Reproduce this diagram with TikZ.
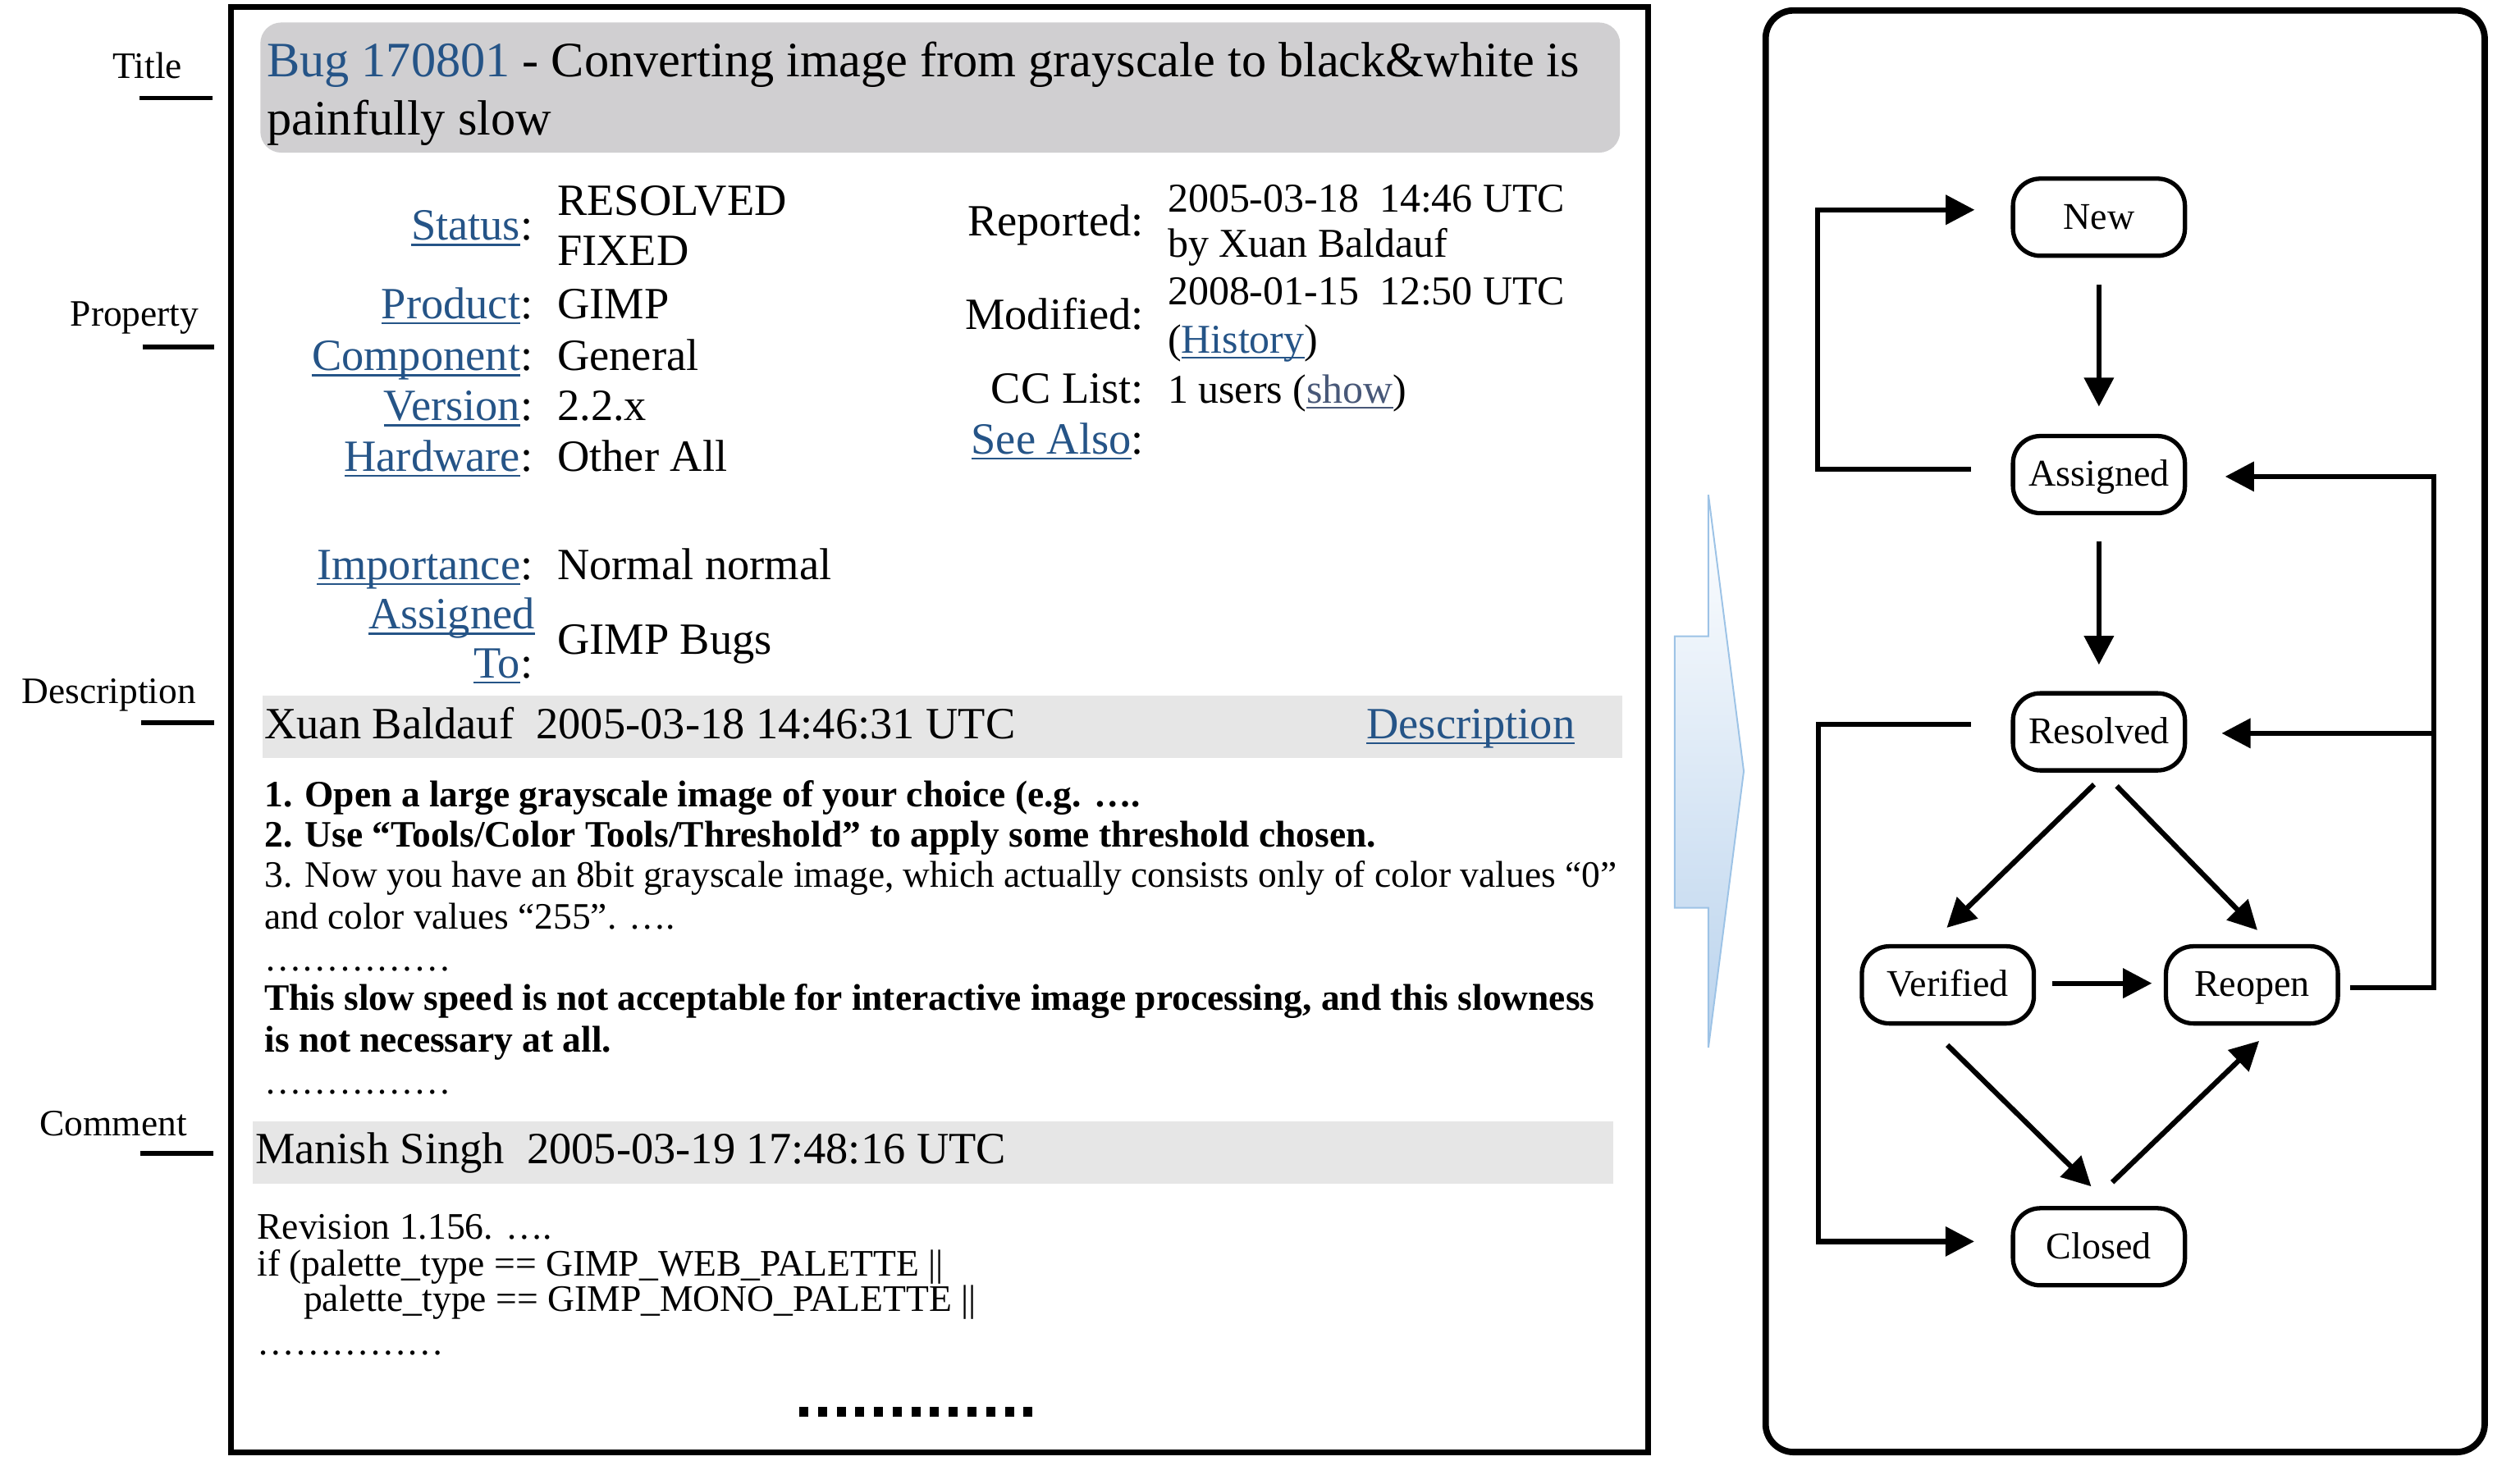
\documentclass[tikz,border=0pt]{standalone}
\usepackage{fontspec}
\setmainfont{Liberation Serif}
\usetikzlibrary{arrows.meta,calc}
\definecolor{linkblue}{RGB}{37,84,135}
\definecolor{visblue}{RGB}{72,88,120}
\definecolor{titlegray}{RGB}{208,207,209}
\definecolor{bargray}{RGB}{230,230,230}
\definecolor{arrowedge}{RGB}{157,195,230}
\definecolor{arrowfill}{RGB}{186,211,237}
\newcommand\lnk[2][linkblue]{{\color{#1}\sbox0{#2}\rlap{\rule[-1.75pt]{\wd0}{0.6pt}}\usebox0}}
\newcommand\fTitle{\fontsize{15.4pt}{18pt}\selectfont}
\newcommand\fBig{\fontsize{13.9pt}{16pt}\selectfont}
\newcommand\fVal{\fontsize{12.75pt}{15pt}\selectfont}
\newcommand\fBody{\fontsize{11.6pt}{13pt}\selectfont}
\newcommand\fCode{\fontsize{11.65pt}{13pt}\selectfont}
\newcommand\fNode{\fontsize{11.75pt}{13pt}\selectfont}
\tikzset{
  T/.style={anchor=base west, inner sep=0pt, outer sep=0pt},
  TR/.style={anchor=base east, inner sep=0pt, outer sep=0pt},
  state/.style={draw, line width=1.35pt, rounded corners=8.5pt, minimum width=53.5pt,
    minimum height=24pt, inner sep=0pt, text height=8.5pt, text depth=1.2pt, font=\fNode},
  arr/.style={line width=1.6pt, -{Triangle[length=9pt,width=9pt]}},
  tick/.style={line width=1.5pt},
}
\begin{document}
\begin{tikzpicture}[x=0.5pt,y=-0.5pt]
\useasboundingbox (0,0) rectangle (1568,909.3);

% ---------------- left page ----------------
\draw[line width=1.8pt] (143.8,4.3) rectangle (1025.3,903.8);
\fill[titlegray, rounded corners=6.5pt] (162,14) rectangle (1008,95);
\node[T,font=\fTitle] (t1) at (166,47.9) {\textcolor{linkblue}{Bug 170801} - Converting image from grayscale to black\&white is};
\node[T,font=\fTitle] (t2) at (166,84) {painfully slow};

% properties left column
\node[TR,font=\fBig] (pst) at (331.5,149.5) {\lnk{Status}:};
\node[T,font=\fBig] (vst1) at (346.8,133.8) {RESOLVED};
\node[T,font=\fBig] (vst2) at (346.8,165) {FIXED};
\node[TR,font=\fBig] (ppr) at (331.5,198.3) {\lnk{Product}:};
\node[T,font=\fBig] (vpr) at (346.8,198.3) {GIMP};
\node[TR,font=\fBig] (pco) at (331.5,230.6) {\lnk{Component}:};
\node[T,font=\fBig] (vco) at (346.8,230.6) {General};
\node[TR,font=\fBig] (pve) at (331.5,261.8) {\lnk{Version}:};
\node[T,font=\fBig] (vve) at (346.8,261.8) {2.2.x};
\node[TR,font=\fBig] (pha) at (331.5,293.1) {\lnk{Hardware}:};
\node[T,font=\fBig] (vha) at (346.8,293.1) {Other All};
\node[TR,font=\fBig] (pim) at (331.5,360.5) {\lnk{Importance}:};
\node[T,font=\fBig] (vim) at (346.8,360.5) {Normal normal};
\node[TR,font=\fBig] (pas1) at (332.8,391.5) {\lnk{Assigned}};
\node[TR,font=\fBig] (pas2) at (331.5,422) {\lnk{To}:};
\node[T,font=\fBig] (vas) at (346.8,407.2) {GIMP Bugs};

% properties right column
\node[TR,font=\fBig] (pre) at (711.7,146.6) {Reported:};
\node[T,font=\fVal] (vre1) at (726.6,131.9) {2005-03-18\ \ 14:46 UTC};
\node[T,font=\fVal] (vre2) at (726.6,160.2) {by Xuan Baldauf};
\node[TR,font=\fBig] (pmo) at (711.7,205.2) {Modified:};
\node[T,font=\fVal] (vmo1) at (726.6,189.5) {2008-01-15\ \ 12:50 UTC};
\node[T,font=\fVal] (vmo2) at (726.6,219.8) {(\lnk{History})};
\node[TR,font=\fBig] (pcc) at (711.7,251) {CC List:};
\node[T,font=\fVal] (vcc) at (726.6,251) {1 users (\lnk[visblue]{show})};
\node[TR,font=\fBig] (psa) at (711.7,282.4) {\lnk{See Also}:};

% description
\fill[bargray] (163.5,432.8) rectangle (1009.2,471.6);
\node[T,font=\fBig] (dh) at (164.6,459.7) {Xuan Baldauf\ \ 2005-03-18 14:46:31 UTC};
\node[TR,font=\fBig] (dl) at (980,459.7) {\lnk{Description}};
\node[T,font=\fBody\bfseries] (d1) at (164.6,501.9) {1. Open a large grayscale image of your choice (e.g. ….};
\node[T,font=\fBody\bfseries] (d2) at (164.6,527) {2. Use “Tools/Color Tools/Threshold” to apply some threshold chosen.};
\node[T,font=\fBody] (d3) at (164.6,552) {3. Now you have an 8bit grayscale image, which actually consists only of color values “0”};
\node[T,font=\fBody] (d4) at (164.6,578.3) {and color values “255”. ….};
\node[T,font=\fBody] (d5) at (164.6,604.5) {……………};
\node[T,font=\fBody\bfseries] (d6) at (164.6,628.9) {This slow speed is not acceptable for interactive image processing, and this slowness};
\node[T,font=\fBody\bfseries] (d7) at (164.6,654.6) {is not necessary at all.};
\node[T,font=\fBody] (d8) at (164.6,680.8) {……………};

% comment
\fill[bargray] (157.5,698) rectangle (1003.7,736.8);
\node[T,font=\fBig] (ch) at (158.8,724) {Manish Singh\ \ 2005-03-19 17:48:16 UTC};
\node[T,font=\fCode] (c1) at (160,771) {Revision 1.156. ….};
\node[T,font=\fCode] (c2) at (160,794) {if (palette\_type == GIMP\_WEB\_PALETTE ||};
\node[T,font=\fCode] (c3) at (189,816.1) {palette\_type == GIMP\_MONO\_PALETTE ||};
\node[T,font=\fCode] (c4) at (160,843.3) {……………};
\draw[line width=3pt, dash pattern=on 2.8pt off 3.015pt] (497.3,878.6) -- (642.5,878.6);

% side labels
\node[TR,font=\fBody] (lTitle) at (113.3,48.9) {Title};
\draw[tick] (87,61) -- (132,61);
\node[TR,font=\fBody] (lProp) at (123.7,203) {Property};
\draw[tick] (88.6,216) -- (133.5,216);
\node[TR,font=\fBody] (lDesc) at (122,437.6) {Description};
\draw[tick] (88,450) -- (133.5,450);
\node[TR,font=\fBody] (lCom) at (116.3,707) {Comment};
\draw[tick] (87.3,718) -- (132.5,718);

% ---------------- middle arrow ----------------
\draw[arrowedge, line width=0.5pt, top color=white, bottom color=arrowfill]
  (1042,396) -- (1063,396) -- (1063,308) -- (1085,480) -- (1063,652) -- (1063,565) -- (1042,565) -- cycle;

% ---------------- state diagram ----------------
\draw[line width=2pt, rounded corners=8.75pt] (1098.6,6.5) rectangle (1546,903.8);

\node[state] (New) at (1306,135.2) {New};
\node[state] (Assigned) at (1306,295.4) {Assigned};
\node[state] (Resolved) at (1306,455.5) {Resolved};
\node[state] (Verified) at (1212,613) {Verified};
\node[state] (Reopen) at (1401.2,613) {Reopen};
\node[state] (Closed) at (1306,776) {Closed};

\draw[arr] ($(New.south)+(0,16.5)$) -- ($(Assigned.north)+(0,-17)$);
\draw[arr] ($(Assigned.south)+(0,16)$) -- ($(Resolved.north)+(0,-16.4)$);
\draw[arr] ($(Assigned.west)+(-24.8,-3.4)$) -- ++(-95.3,0) |- ($(New.west)+(-22.5,-4.6)$);
\draw[arr] ($(Resolved.west)+(-24.9,-4.5)$) -- ++(-94.8,0) |- ($(Closed.west)+(-22.7,-3.3)$);
\draw[arr] ($(Reopen.east)+(6,1.6)$) -- ++(52.3,0) |- ($(Assigned.east)+(23.7,1.2)$);
\draw[arr] ($(Resolved.east)+(153.5,0.9)$) -- ($(Resolved.east)+(21.5,0.9)$);
\draw[arr] ($(Resolved.south)+(-3,7.4)$) -- ($(Verified.north)+(-0.7,-10.2)$);
\draw[arr] ($(Resolved.south)+(11.1,8.4)$) -- ($(Reopen.north)+(3.4,-8.7)$);
\draw[arr] ($(Verified.east)+(10.3,-1)$) -- ($(Reopen.west)+(-7.4,-1)$);
\draw[arr] ($(Verified.south)+(-0.3,12.1)$) -- ($(Closed.north)+(-4.8,-12.2)$);
\draw[arr] ($(Closed.north)+(8.3,-14.8)$) -- ($(Reopen.south)+(4.5,9.5)$);
\end{tikzpicture}
\end{document}
